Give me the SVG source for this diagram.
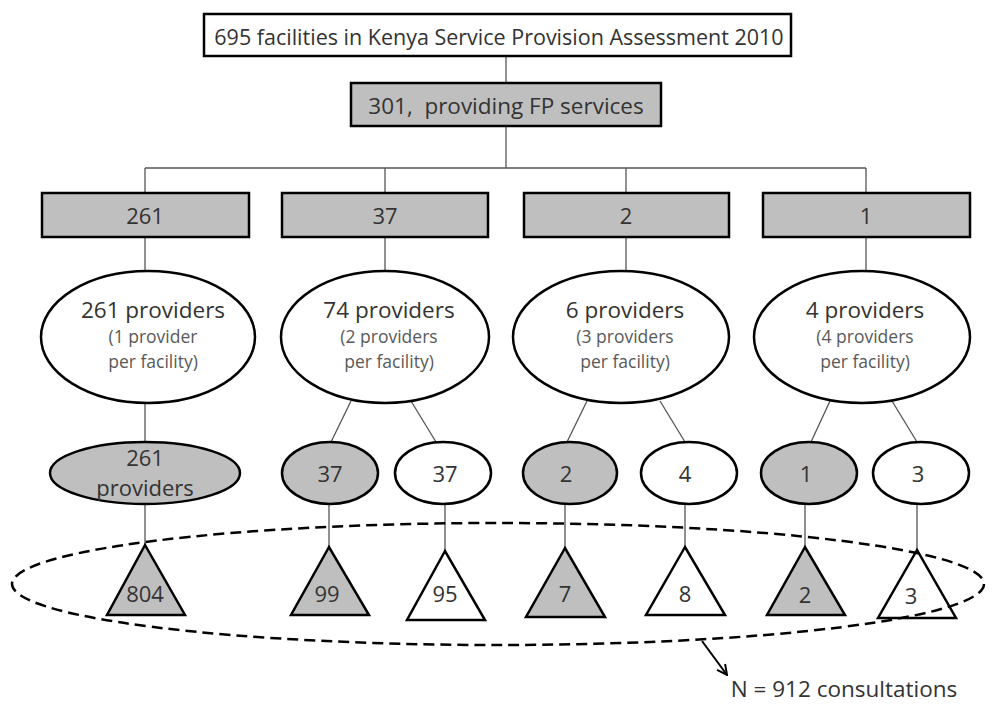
<svg xmlns="http://www.w3.org/2000/svg" width="993" height="705" viewBox="0 0 993 705">
<defs>
<style>
.box{stroke:#000;stroke-width:2.5;}
.w{fill:#fff;}
.g{fill:#bfbfbf;}
.sh{stroke:#000;stroke-width:2.5;}
.c{stroke:#555;stroke-width:1.3;fill:none;}
.t{font-family:"Open Sans","Noto Sans",sans-serif;fill:#333;text-anchor:middle;dominant-baseline:central;}
.big{font-size:22px;}
.hd{font-size:22.5px;}
.sm{font-size:17.5px;fill:#595959;}
</style>
<marker id="arr" viewBox="0 0 12 12" refX="11" refY="6" markerWidth="12" markerHeight="12" markerUnits="userSpaceOnUse" orient="auto">
<path d="M1,1 L11,6 L1,11" fill="none" stroke="#000" stroke-width="2"/>
</marker>
</defs>
<rect width="993" height="705" fill="#fff"/>
<g id="connectors">
<line class="c" x1="506" y1="56" x2="506" y2="83"/>
<line class="c" x1="506" y1="126" x2="506" y2="168"/>
<line class="c" x1="145" y1="168" x2="866" y2="168"/>
<line class="c" x1="145" y1="168" x2="145" y2="193"/>
<line class="c" x1="385" y1="168" x2="385" y2="193"/>
<line class="c" x1="626" y1="168" x2="626" y2="193"/>
<line class="c" x1="866" y1="168" x2="866" y2="193"/>
<line class="c" x1="145" y1="237" x2="145" y2="271"/>
<line class="c" x1="385" y1="237" x2="385" y2="271"/>
<line class="c" x1="626" y1="237" x2="626" y2="271"/>
<line class="c" x1="866" y1="237" x2="866" y2="271"/>
<line class="c" x1="145" y1="403" x2="145" y2="442"/>
<line class="c" x1="351" y1="401" x2="331" y2="442"/>
<line class="c" x1="411" y1="401" x2="436" y2="442"/>
<line class="c" x1="587" y1="401" x2="567" y2="442"/>
<line class="c" x1="660" y1="401" x2="685" y2="442"/>
<line class="c" x1="830" y1="401" x2="811" y2="442"/>
<line class="c" x1="892" y1="401" x2="917" y2="442"/>
<line class="c" x1="145" y1="504" x2="145" y2="545"/>
<line class="c" x1="329" y1="504" x2="329" y2="547"/>
<line class="c" x1="445" y1="504" x2="445" y2="551"/>
<line class="c" x1="565" y1="504" x2="565" y2="548"/>
<line class="c" x1="685" y1="504" x2="685" y2="547"/>
<line class="c" x1="805" y1="504" x2="805" y2="547"/>
<line class="c" x1="917" y1="504" x2="917" y2="550"/>
</g>
<g id="n-top"><rect class="box w" x="204" y="14" width="587" height="42"/><text class="t" x="499" y="36" font-size="21.5">695 facilities in Kenya Service Provision Assessment 2010</text></g>
<g id="n-fp"><rect class="box g" x="351" y="83" width="310" height="43"/><text class="t hd" x="506" y="105" xml:space="preserve">301,  providing FP services</text></g>
<g id="n-b1"><rect class="box g" x="42" y="193" width="207" height="44"/><text class="t big" x="145" y="215">261</text></g>
<g id="n-b2"><rect class="box g" x="282" y="193" width="206" height="44"/><text class="t big" x="385" y="215">37</text></g>
<g id="n-b3"><rect class="box g" x="524" y="193" width="205" height="44"/><text class="t big" x="626" y="215">2</text></g>
<g id="n-b4"><rect class="box g" x="763" y="193" width="207" height="44"/><text class="t big" x="866" y="215">1</text></g>
<g id="n-e1"><ellipse class="sh w" cx="148" cy="337" rx="107" ry="66"/><text class="t hd" x="153" y="309">261 providers</text><text class="t sm" x="153" y="336">(1 provider</text><text class="t sm" x="153" y="361">per facility)</text></g>
<g id="n-e2"><ellipse class="sh w" cx="385" cy="337" rx="104" ry="66"/><text class="t hd" x="389" y="309">74 providers</text><text class="t sm" x="389" y="336">(2 providers</text><text class="t sm" x="389" y="361">per facility)</text></g>
<g id="n-e3"><ellipse class="sh w" cx="621" cy="337" rx="108" ry="66"/><text class="t hd" x="625" y="309">6 providers</text><text class="t sm" x="625" y="336">(3 providers</text><text class="t sm" x="625" y="361">per facility)</text></g>
<g id="n-e4"><ellipse class="sh w" cx="862" cy="337" rx="108" ry="66"/><text class="t hd" x="865" y="309">4 providers</text><text class="t sm" x="865" y="336">(4 providers</text><text class="t sm" x="865" y="361">per facility)</text></g>
<g id="n-s1"><ellipse class="sh g" cx="145" cy="473" rx="95" ry="31"/><text class="t big" x="145" y="457">261</text><text class="t big" x="145" y="487">providers</text></g>
<g id="n-s2"><ellipse class="sh g" cx="330" cy="473" rx="48" ry="31"/><text class="t big" x="330" y="473">37</text></g>
<g id="n-s3"><ellipse class="sh w" cx="443" cy="473" rx="48" ry="31"/><text class="t big" x="445" y="473">37</text></g>
<g id="n-s4"><ellipse class="sh g" cx="570" cy="473" rx="47" ry="31"/><text class="t big" x="566" y="473">2</text></g>
<g id="n-s5"><ellipse class="sh w" cx="689" cy="473" rx="48" ry="31"/><text class="t big" x="685" y="473">4</text></g>
<g id="n-s6"><ellipse class="sh g" cx="809" cy="473" rx="48" ry="31"/><text class="t big" x="806" y="473">1</text></g>
<g id="n-s7"><ellipse class="sh w" cx="921" cy="473" rx="48" ry="31"/><text class="t big" x="918" y="473">3</text></g>
<g id="n-t1"><polygon class="sh g" points="145,545 107,615 185,615"/><text class="t big" x="145" y="593">804</text></g>
<g id="n-t2"><polygon class="sh g" points="329,547 291,615 369,615"/><text class="t big" x="327" y="593">99</text></g>
<g id="n-t3"><polygon class="sh w" points="445,551 407,620 485,620"/><text class="t big" x="445" y="593">95</text></g>
<g id="n-t4"><polygon class="sh g" points="565,548 526,617 605,617"/><text class="t big" x="565" y="593">7</text></g>
<g id="n-t5"><polygon class="sh w" points="685,547 646,615 725,615"/><text class="t big" x="685" y="593">8</text></g>
<g id="n-t6"><polygon class="sh g" points="805,547 767,615 845,615"/><text class="t big" x="805" y="594">2</text></g>
<g id="n-t7"><polygon class="sh w" points="917,550 878,618 956,618"/><text class="t big" x="911" y="595">3</text></g>
<g id="n-group"><ellipse cx="498" cy="584" rx="486" ry="61" fill="none" stroke="#000" stroke-width="2.5" stroke-dasharray="11,6"/></g>
<g id="n-arrow"><line x1="702" y1="641" x2="727" y2="675" stroke="#000" stroke-width="2" marker-end="url(#arr)"/></g>
<g id="n-label"><text class="t" x="844" y="688" font-size="22.5">N = 912 consultations</text></g>
</svg>
